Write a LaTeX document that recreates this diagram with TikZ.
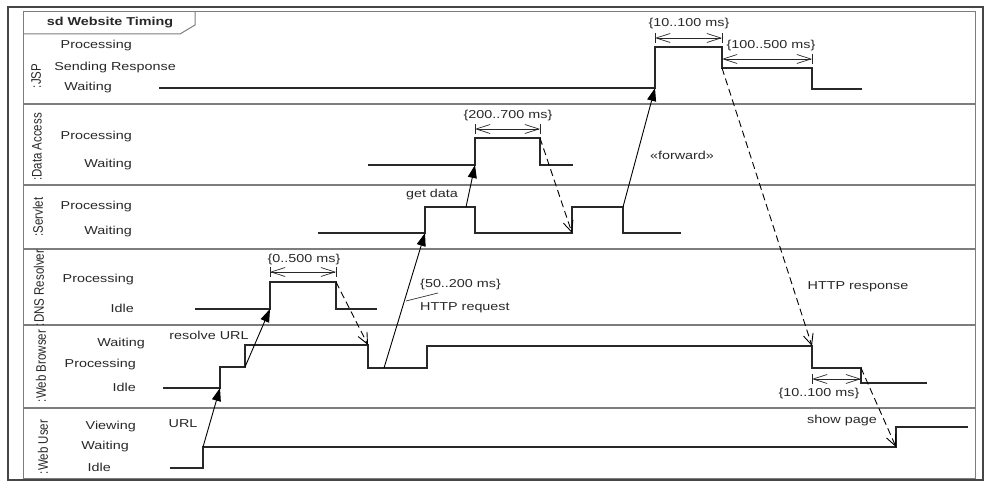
\documentclass[tikz,border=0pt]{standalone}
\usepackage{fontspec}
\setmainfont{Liberation Sans}[FakeStretch=1.25]
\newfontfamily\lanefont{Liberation Sans}
\usepackage{tikz}
\usetikzlibrary{arrows.meta, positioning}
\definecolor{framegray}{RGB}{70, 70, 70}
\definecolor{sepgray}{RGB}{125, 125, 125}
\definecolor{inkgray}{RGB}{40, 40, 40}

\begin{document}
\begin{tikzpicture}[
    x=1pt, y=-1pt,
    txt/.style={font=\fontsize{11.5}{13}\selectfont, text=inkgray, inner sep=0pt},
    statename/.style={txt, anchor=east},
    lanename/.style={font={\lanefont\fontsize{11.5}{13}\selectfont}, text=inkgray,
                     rotate=90, yscale=1.2, inner sep=0pt},
    lanesep/.style={draw=sepgray, line width=1.2pt},
    timeline/.style={draw=inkgray, line width=1.1pt},
    msg/.style={-{Triangle[length=13pt, width=9pt]}, draw=black, line width=0.9pt},
    reply/.style={-{Straight Barb[length=11pt, width=10pt]}, draw=black,
                  line width=0.9pt, dash pattern=on 7pt off 4pt},
    dimline/.style={{Straight Barb[length=14pt, width=9pt]}-{Straight Barb[length=14pt, width=9pt]},
                    draw=inkgray, line width=0.7pt},
    dimtick/.style={draw=inkgray, line width=1pt},
]
    \useasboundingbox (0,0) rectangle (984,481);

    % frame and title tab
    \draw[framegray, line width=2pt] (8,7) rectangle (983,480);
    \draw[sepgray, line width=1pt] (23,12) rectangle (975,478);
    \draw[sepgray, line width=1pt] (23,34) -- (180,34) -- (195,25) -- (195,12);
    \node[txt, font=\bfseries\fontsize{11.5}{13}\selectfont] (title) at (110,23) {sd Website Timing};

    % lanes
    \foreach \y in {104,185,249,325,408}
        \draw[lanesep] (23,\y) -- (975,\y);

    \node[lanename] (jsp) at (36,76) {:JSP};
    \node[lanename] (data) at (37,147) {:Data Access};
    \node[lanename] (servlet) at (38,217) {:Servlet};
    \node[lanename] (dns) at (39,288) {:DNS Resolver};
    \node[lanename] (browser) at (41,366) {:Web Browser};
    \node[lanename] (user) at (43,447) {:Web User};

    \node[statename] (jspProc) at (132,46) {Processing};
    \node[statename] (jspSend) at (176,68) {Sending Response};
    \node[statename] (jspWait) at (112,88) {Waiting};
    \node[statename] (daProc) at (132,137) {Processing};
    \node[statename] (daWait) at (132,165) {Waiting};
    \node[statename] (svProc) at (132,207) {Processing};
    \node[statename] (svWait) at (132,232) {Waiting};
    \node[statename] (dnsProc) at (134,280) {Processing};
    \node[statename] (dnsIdle) at (134,308) {Idle};
    \node[statename] (wbWait) at (145,344) {Waiting};
    \node[statename] (wbProc) at (136,365) {Processing};
    \node[statename] (wbIdle) at (136,387) {Idle};
    \node[statename] (wuView) at (136,427) {Viewing};
    \node[statename] (wuWait) at (129,447) {Waiting};
    \node[statename] (wuIdle) at (111,467) {Idle};

    % state lines
    \draw[timeline] (159,88) -- (655,88) coordinate (jspIn) -- (655,47) -- (722,47)
        -- (722,68) coordinate (jspOut) -- (812,68) -- (812,89) -- (862,89);
    \draw[timeline] (368,165) -- (475,165) coordinate (daIn) -- (475,138) -- (540,138)
        coordinate (daOut) -- (540,165) -- (573,165);
    \draw[timeline] (318,233) -- (425,233) coordinate (svIn) -- (425,207) -- (466,207)
        coordinate (svGet) -- (475,207) -- (475,233) -- (572,233) coordinate (svBack)
        -- (572,207) -- (623,207) coordinate (svFwd) -- (623,233) -- (681,233);
    \draw[timeline] (195,309) -- (270,309) coordinate (dnsIn) -- (270,282) -- (336,282)
        coordinate (dnsOut) -- (336,309) -- (377,309);
    \draw[timeline] (163,388) -- (220,388) coordinate (wbIn) -- (220,367) -- (245,367)
        coordinate (wbRes) -- (245,345) -- (368,345) coordinate (wbDns) -- (368,368)
        -- (384,368) coordinate (wbReq) -- (427,368) -- (427,346) -- (812,346)
        coordinate (wbResp) -- (812,368) -- (861,368) coordinate (wbShow) -- (861,383)
        -- (927,383);
    \draw[timeline] (170,468) -- (203,468) -- (203,447) coordinate (wuUrl) -- (896,447)
        coordinate (wuShow) -- (896,427) -- (968,427);

    % durations
    \draw[dimline] (655,38) -- (722,38);
    \draw[dimtick] (655,33) -- (655,43) (722,33) -- (722,43);
    \node[txt] (jspTime) at (689,24) {\{10..100 ms\}};
    \draw[dimline] (722,59) -- (812,59);
    \draw[dimtick] (722,54) -- (722,64) (812,54) -- (812,64);
    \node[txt] (sendTime) at (771,46) {\{100..500 ms\}};
    \draw[dimline] (475,129) -- (540,129);
    \draw[dimtick] (475,124) -- (475,134) (540,124) -- (540,134);
    \node[txt] (daTime) at (508,116) {\{200..700 ms\}};
    \draw[dimline] (270,272) -- (336,272);
    \draw[dimtick] (270,267) -- (270,277) (336,267) -- (336,277);
    \node[txt] (dnsTime) at (304,260) {\{0..500 ms\}};
    \draw[dimline] (812,379) -- (861,379);
    \draw[dimtick] (812,374) -- (812,384) (861,374) -- (861,384);
    \node[txt] (wbTime) at (819,394) {\{10..100 ms\}};

    % messages
    \draw[msg] (wuUrl) -- (wbIn);
    \node[txt] (urlLbl) at (183,424) {URL};
    \draw[msg] (wbRes) -- (dnsIn);
    \node[txt] (resLbl) at (209,335) {resolve URL};
    \draw[reply] (dnsOut) -- (wbDns);
    \draw[msg] (wbReq) -- (svIn);
    \node[txt, anchor=west] (reqTime) at (420,285) {\{50..200 ms\}};
    \node[txt, anchor=west] (reqLbl) at (420,308) {HTTP request};
    \coordinate (leadA) at (406,301);
    \coordinate (leadB) at (438,293);
    \draw[inkgray, line width=0.7pt] (leadA) -- (leadB);
    \draw[msg] (svGet) -- (daIn);
    \node[txt] (getLbl) at (432,195) {get data};
    \draw[reply] (daOut) -- (svBack);
    \draw[msg] (svFwd) -- (jspIn);
    \node[txt] (fwdLbl) at (682,155) {«forward»};
    \draw[reply] (jspOut) -- (wbResp);
    \node[txt] (respLbl) at (858,287) {HTTP response};
    \draw[reply] (wbShow) -- (wuShow);
    \node[txt] (showLbl) at (842,421) {show page};
\end{tikzpicture}
\end{document}
